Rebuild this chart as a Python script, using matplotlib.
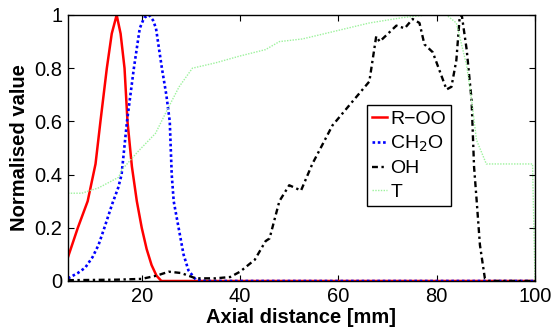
import matplotlib
matplotlib.use("Agg")
import matplotlib.pyplot as plt

plt.rcParams['font.family'] = ['Liberation Sans', 'DejaVu Sans']

# R-OO (red, solid)
roo_x = [5, 7, 9, 10.6, 11.6, 12.9, 13.9, 14.9, 15.7, 16.5, 17.1, 18, 19, 20, 21, 22, 23, 24, 100]
roo_y = [0.09, 0.2, 0.3, 0.44, 0.6, 0.8, 0.93, 1.0, 0.93, 0.8, 0.6, 0.43, 0.3, 0.2, 0.12, 0.06, 0.02, 0.0, 0.0]

# CH2O (blue, dotted)
ch2o_x = [5, 7, 8.5, 10, 11.2, 12.4, 14, 15.2, 15.9, 17, 18.4, 19.6, 20.5, 21.5, 22.3, 22.9,
          24.1, 25, 25.7, 26.1, 26.5, 27.5, 28.5, 29.5, 31, 33, 100]
ch2o_y = [0.01, 0.03, 0.05, 0.09, 0.135, 0.2, 0.29, 0.35, 0.4, 0.6, 0.8, 0.95, 0.99, 1.0, 0.98, 0.95,
          0.8, 0.7, 0.6, 0.4, 0.3, 0.2, 0.1, 0.04, 0.005, 0.0, 0.0]

# OH (black, dash-dot)
oh_x = [5, 15, 20, 23, 25.5, 28, 31, 35, 38, 40, 43, 45.2, 46, 48, 50, 52.4, 54.7, 58.8, 62.2,
        66.3, 67.7, 68.4, 71.8, 73.5, 75.1, 76.5, 77.5, 79.2, 82, 83, 84, 84.7, 85.1, 86.1,
        87.1, 87.6, 88.1, 88.8, 89.8, 90.5, 100]
oh_y = [0.003, 0.005, 0.008, 0.02, 0.035, 0.03, 0.01, 0.01, 0.015, 0.035, 0.08, 0.15, 0.16, 0.3,
        0.36, 0.34, 0.44, 0.585, 0.66, 0.75, 0.92, 0.9, 0.96, 0.95, 0.985, 0.97, 0.89, 0.86,
        0.72, 0.73, 0.83, 0.997, 1.0, 0.87, 0.68, 0.43, 0.31, 0.135, 0.01, 0.0, 0.0]

# T (light green, dotted)
t_x = [5, 7.8, 11.2, 15.3, 15.9, 19.4, 22.8, 25.5, 27.6, 30.3, 35, 39.8, 45.2, 48, 52.7, 59.5,
       66.3, 73, 77.9, 82, 84, 86.1, 87.1, 88.1, 90.1, 99.5, 100]
t_y = [0.33, 0.33, 0.35, 0.39, 0.417, 0.49, 0.555, 0.655, 0.73, 0.8, 0.82, 0.845, 0.87, 0.9,
       0.91, 0.94, 0.97, 0.99, 1.0, 1.0, 0.97, 0.81, 0.68, 0.53, 0.44, 0.44, 0.0]

fig = plt.figure(figsize=(5.51, 3.35), dpi=100)
ax = fig.add_axes([68 / 551, 1 - 281 / 335, (535 - 68) / 551, (281 - 15) / 335])

ax.plot(roo_x, roo_y, color='red', lw=1.8, label='R\u2212OO')
ax.plot(ch2o_x, ch2o_y, color='blue', lw=1.9, ls=(0, (1, 1)), label='CH$_2$O')
ax.plot(oh_x, oh_y, color='black', lw=1.7, ls=(0, (2.5, 1.5, 1, 1.5)), label='OH')
ax.plot(t_x, t_y, color='#9cf29c', lw=1.0, ls=(0, (1, 1)), label='T')

ax.set_xlim(5, 100)
ax.set_ylim(0, 1)
ax.set_xticks([20, 40, 60, 80, 100])
ax.set_yticks([0, 0.2, 0.4, 0.6, 0.8, 1])
ax.set_yticklabels(['0', '0.2', '0.4', '0.6', '0.8', '1'])
ax.tick_params(direction='in', top=True, right=True, labelsize=14.5, length=4, width=0.8, pad=4)
for s in ax.spines.values():
    s.set_linewidth(1.0)

ax.set_xlabel('Axial distance [mm]', fontsize=14.5, fontweight='bold', labelpad=2)
ax.set_ylabel('Normalised value', fontsize=14.5, fontweight='bold', labelpad=4)

leg = ax.legend(loc='upper left', bbox_to_anchor=(0.64, 0.66), fontsize=14, handlelength=0.8,
                handletextpad=0.15, borderpad=0.25, labelspacing=0.3, borderaxespad=0,
                fancybox=False, framealpha=1, edgecolor='black')
leg.get_frame().set_linewidth(1.0)

fig.savefig('out.png', dpi=100)
